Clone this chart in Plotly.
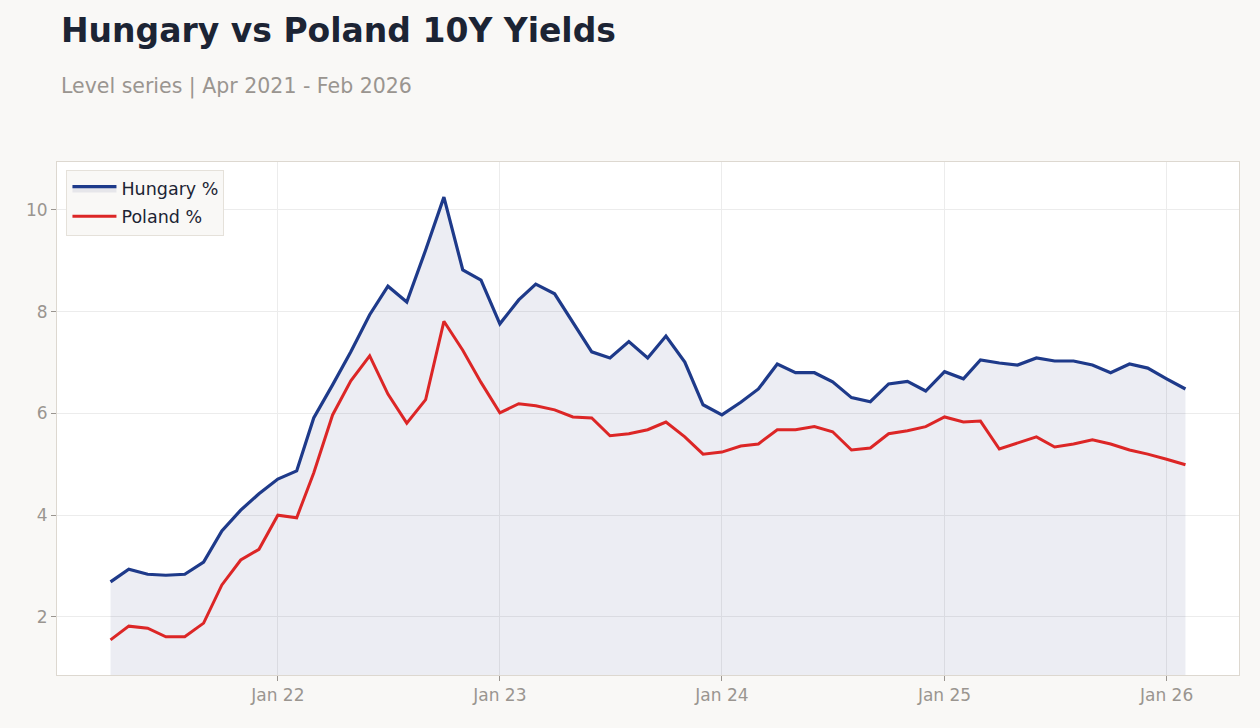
import plotly.graph_objects as go
import pandas as pd

dates = pd.date_range("2021-04-01", "2026-02-01", freq="MS")

hungary = [2.69, 2.94, 2.84, 2.82, 2.84, 3.08, 3.69, 4.10, 4.42,
           4.71, 4.87, 5.91, 6.56, 7.21, 7.94, 8.50, 8.19, 9.21, 10.25, 8.82, 8.62,
           7.76, 8.23, 8.54, 8.35, 7.78, 7.21, 7.09, 7.41, 7.09, 7.52, 7.01, 6.17,
           5.97, 6.22, 6.48, 6.97, 6.80, 6.80, 6.62, 6.31, 6.23, 6.58, 6.63, 6.44,
           6.82, 6.68, 7.05, 6.99, 6.95, 7.09, 7.03, 7.03, 6.95, 6.80, 6.97, 6.89,
           6.68, 6.48]

poland = [1.55, 1.82, 1.78, 1.61, 1.61, 1.88, 2.63, 3.12, 3.33,
          4.00, 3.95, 4.83, 5.97, 6.64, 7.13, 6.38, 5.81, 6.27, 7.81, 7.24, 6.61,
          6.01, 6.19, 6.15, 6.07, 5.93, 5.91, 5.56, 5.60, 5.68, 5.83, 5.54, 5.20,
          5.24, 5.36, 5.40, 5.68, 5.68, 5.74, 5.64, 5.28, 5.32, 5.60, 5.66, 5.74,
          5.93, 5.83, 5.85, 5.30, 5.42, 5.54, 5.34, 5.40, 5.48, 5.40, 5.28, 5.20,
          5.10, 4.99]

title = "Hungary vs Poland 10Y Yields"
subtitle = "Level series | Apr 2021 - Feb 2026"

fig = go.Figure()
fig.add_trace(go.Scatter(
    x=dates, y=hungary, name="Hungary %", mode="lines",
    line=dict(color="#1e3a8a", width=3.2), legendgroup="hu",
    fill="tozeroy", fillcolor="rgba(40,50,120,0.09)",
))
fig.add_trace(go.Scatter(
    x=dates, y=poland, name="Poland %", mode="lines",
    line=dict(color="#dc2626", width=3), legendgroup="pl",
))

fig.update_layout(
    width=1260, height=728,
    paper_bgcolor="#f9f8f6", plot_bgcolor="#ffffff",
    margin=dict(l=57, r=21, t=162, b=53),
    font=dict(family="DejaVu Sans", size=17, color="#9a9590"),
    showlegend=True,
    legend=dict(
        x=0.008, y=0.985, xanchor="left", yanchor="top",
        bgcolor="#f9f8f6", bordercolor="#e5e1da", borderwidth=1,
        itemwidth=44, tracegroupgap=2,
        font=dict(family="DejaVu Sans", size=17.5, color="#1c2434"),
    ),
    annotations=[
        dict(text="<b>" + title + "</b>", xref="paper", yref="paper",
             x=0, y=1, xanchor="left", yanchor="top", showarrow=False,
             xshift=2, yshift=153,
             font=dict(family="DejaVu Sans", size=33, color="#1c2434")),
        dict(text=subtitle, xref="paper", yref="paper",
             x=0, y=1, xanchor="left", yanchor="top", showarrow=False,
             xshift=2, yshift=90,
             font=dict(family="DejaVu Sans", size=20.5, color="#9a9590")),
    ],
)

fig.update_xaxes(
    range=["2021-01-03", "2026-04-30"],
    tickformat="%b %y", dtick="M12", tick0="2022-01-01",
    showgrid=True, gridcolor="#ececec", gridwidth=1,
    showline=True, linecolor="#ddd8d0", linewidth=1, mirror=True,
    ticks="outside", ticklen=5, tickcolor="#9a9590",
    zeroline=False,
)
fig.update_yaxes(
    range=[0.86, 10.94],
    dtick=2, tick0=0,
    showgrid=True, gridcolor="#ececec", gridwidth=1,
    showline=True, linecolor="#ddd8d0", linewidth=1, mirror=True,
    ticks="outside", ticklen=5, tickcolor="#9a9590",
    zeroline=False,
)

fig.write_html("out.html")
